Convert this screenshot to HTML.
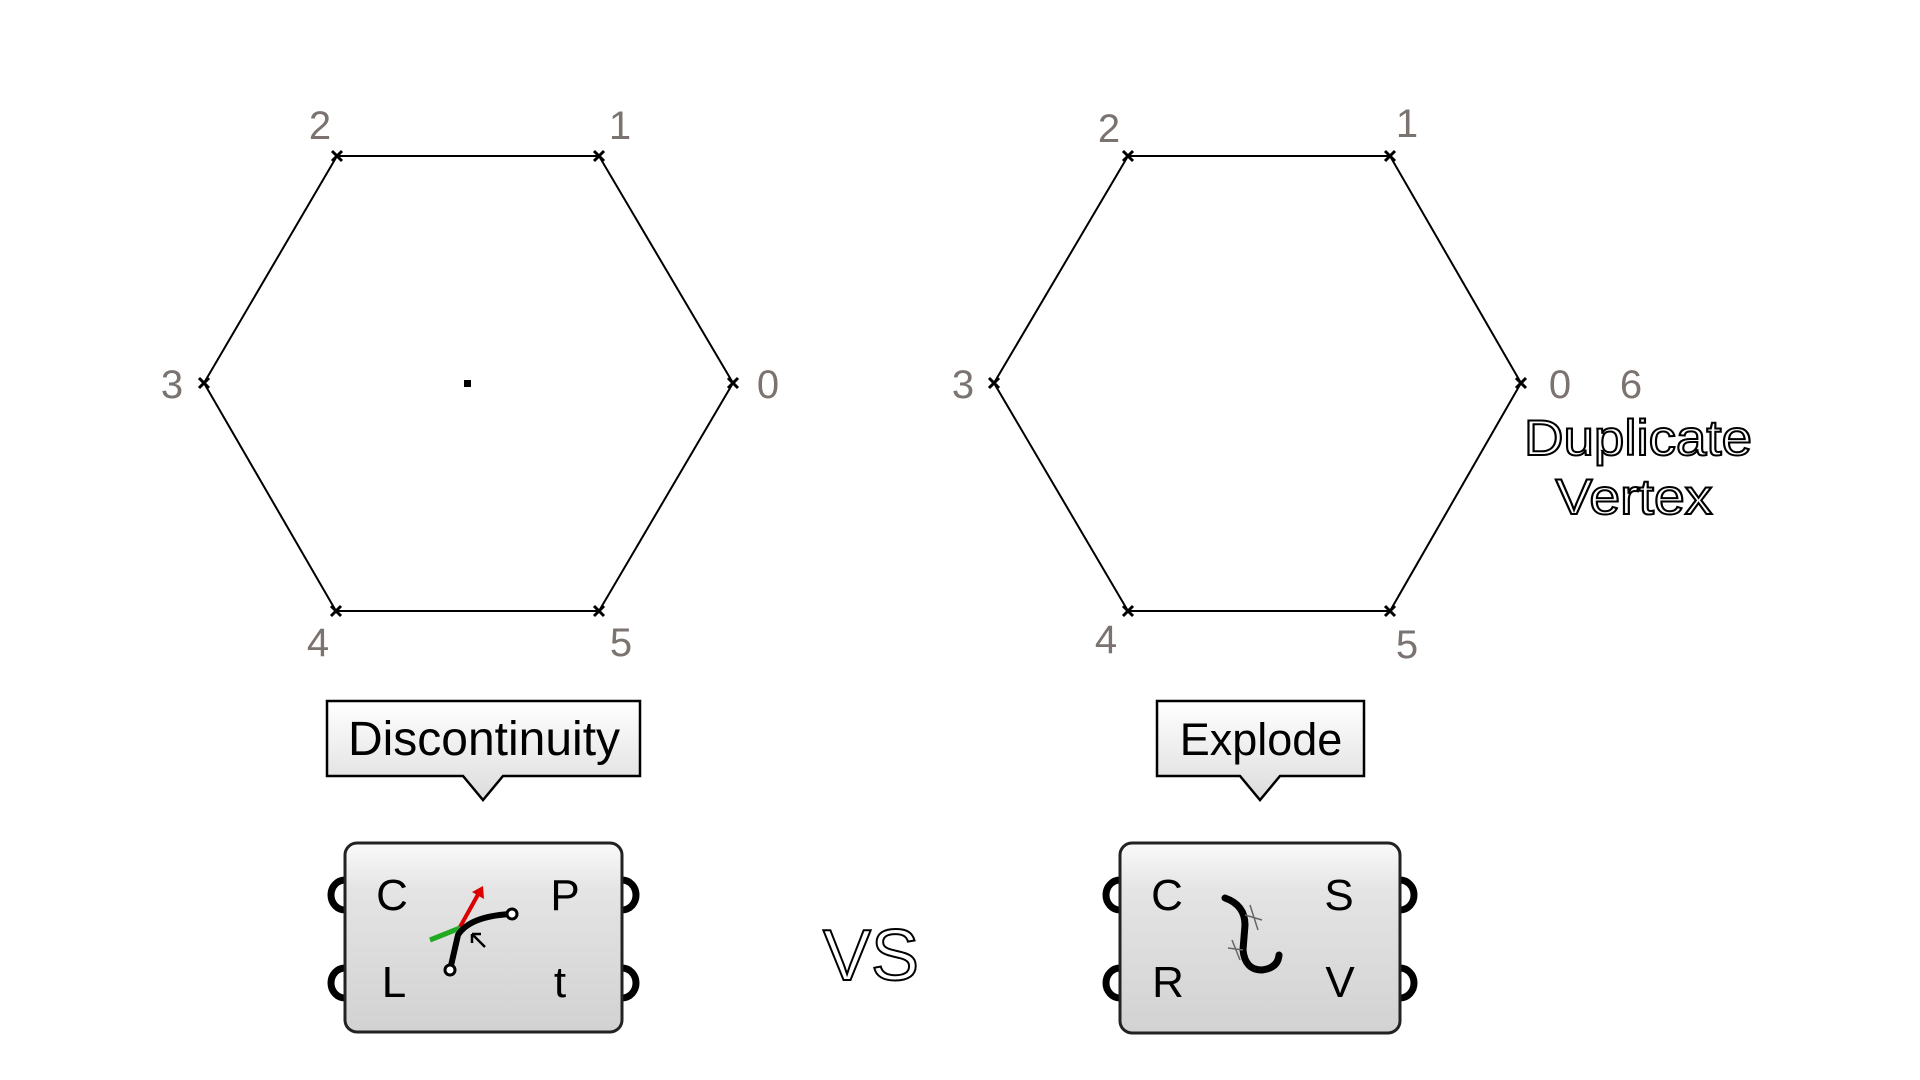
<!DOCTYPE html>
<html><head><meta charset="utf-8"><style>
html,body{margin:0;padding:0;background:#fff;}
svg{display:block;}
</style></head><body>
<svg width="1920" height="1080" viewBox="0 0 1920 1080" xmlns="http://www.w3.org/2000/svg" font-family="Liberation Sans, sans-serif">
<defs>
<linearGradient id="g1" x1="0" y1="0" x2="0" y2="1">
<stop offset="0" stop-color="#fafafa"/><stop offset="0.25" stop-color="#e4e4e4"/><stop offset="1" stop-color="#d2d2d2"/></linearGradient>
<linearGradient id="g2" x1="0" y1="0" x2="0" y2="1">
<stop offset="0" stop-color="#ffffff"/><stop offset="1" stop-color="#dcdcdc"/></linearGradient>
<g id="x"><path d="M-5,-5L5,5M-5,5L5,-5" stroke="#000" stroke-width="3"/></g>
</defs>
<!-- left hexagon -->
<polygon points="733,383 599,156 337,156 204,383 336,611 599,611" fill="none" stroke="#000" stroke-width="2"/>
<use href="#x" x="733" y="383"/><use href="#x" x="599" y="156"/><use href="#x" x="337" y="156"/>
<use href="#x" x="204" y="383"/><use href="#x" x="336" y="611"/><use href="#x" x="599" y="611"/>
<rect x="464" y="380" width="7" height="7" fill="#000"/>
<g fill="#7a7370" font-size="40" text-anchor="middle">
<text x="320" y="139">2</text><text x="620" y="139">1</text><text x="768" y="398">0</text>
<text x="172" y="398">3</text><text x="318" y="656">4</text><text x="621" y="656">5</text>
</g>
<!-- right hexagon -->
<polygon points="1521,383 1390,156 1128,156 994,383 1128,611 1390,611" fill="none" stroke="#000" stroke-width="2"/>
<use href="#x" x="1521" y="383"/><use href="#x" x="1390" y="156"/><use href="#x" x="1128" y="156"/>
<use href="#x" x="994" y="383"/><use href="#x" x="1128" y="611"/><use href="#x" x="1390" y="611"/>
<g fill="#7a7370" font-size="40" text-anchor="middle">
<text x="1109" y="142">2</text><text x="1407" y="137">1</text><text x="1560" y="398">0</text>
<text x="1631" y="398">6</text><text x="963" y="398">3</text><text x="1106" y="653">4</text><text x="1407" y="658">5</text>
</g>
<g fill="#fff" stroke="#000" stroke-width="2" font-size="50" text-anchor="middle">
<text x="1638" y="455" textLength="228" lengthAdjust="spacingAndGlyphs">Duplicate</text>
<text x="1634" y="514" textLength="157" lengthAdjust="spacingAndGlyphs">Vertex</text>
<text x="871" y="980" font-size="72">VS</text>
</g>
<!-- Discontinuity tooltip -->
<path d="M327,701H640V776H503L483,800L463,776H327Z" fill="url(#g2)" stroke="#000" stroke-width="2.5"/>
<text x="484" y="755" font-size="48" text-anchor="middle" fill="#000">Discontinuity</text>
<!-- Explode tooltip -->
<path d="M1157,701H1364V776H1280L1260,800L1240,776H1157Z" fill="url(#g2)" stroke="#000" stroke-width="2.5"/>
<text x="1261" y="755" font-size="45" text-anchor="middle" fill="#000">Explode</text>
<!-- left component -->
<g stroke="#000" stroke-width="7" fill="none">
<path d="M345,880 A14,15 0 0 0 345,910"/><path d="M345,968 A14,15 0 0 0 345,998"/>
<path d="M622,880 A14,15 0 0 1 622,910"/><path d="M622,968 A14,15 0 0 1 622,998"/>
</g>
<rect x="345" y="843" width="277" height="189" rx="12" fill="url(#g1)" stroke="#222" stroke-width="3"/>
<g font-size="44" fill="#000" text-anchor="middle">
<text x="392" y="910">C</text><text x="394" y="997">L</text><text x="565" y="910">P</text><text x="560" y="997">t</text>
</g>
<path d="M460,927 L480,891" stroke="#d00" stroke-width="4"/><path d="M472,892 L483,886 L484,899Z" fill="#d00"/>
<path d="M430,940 L460,928" stroke="#2a2" stroke-width="5"/>
<path d="M450,970 L458,935 Q470,916 512,914" stroke="#000" stroke-width="6" fill="none"/>
<path d="M472,934 L485,947 M472,934 L472,943 M472,934 L481,934" stroke="#000" stroke-width="2.5"/>
<circle cx="512" cy="914" r="5" fill="#fff" stroke="#000" stroke-width="3"/>
<circle cx="450" cy="970" r="5" fill="#fff" stroke="#000" stroke-width="3"/>
<!-- right component -->
<g stroke="#000" stroke-width="7" fill="none">
<path d="M1120,880 A14,15 0 0 0 1120,910"/><path d="M1120,968 A14,15 0 0 0 1120,998"/>
<path d="M1400,880 A14,15 0 0 1 1400,910"/><path d="M1400,968 A14,15 0 0 1 1400,998"/>
</g>
<rect x="1120" y="843" width="280" height="190" rx="12" fill="url(#g1)" stroke="#222" stroke-width="3"/>
<g font-size="44" fill="#000" text-anchor="middle">
<text x="1167" y="910">C</text><text x="1168" y="997">R</text><text x="1339" y="910">S</text><text x="1340" y="997">V</text>
</g>
<path d="M1225,898 Q1245,905 1245,925 L1243,950 Q1245,970 1262,970 Q1278,968 1279,955" stroke="#000" stroke-width="7" fill="none" stroke-linecap="round"/>
<path d="M1245,915 L1262,920 M1250,905 L1258,930 M1228,948 L1243,950 M1232,940 L1240,960" stroke="#666" stroke-width="1.5"/>
</svg>
</body></html>
